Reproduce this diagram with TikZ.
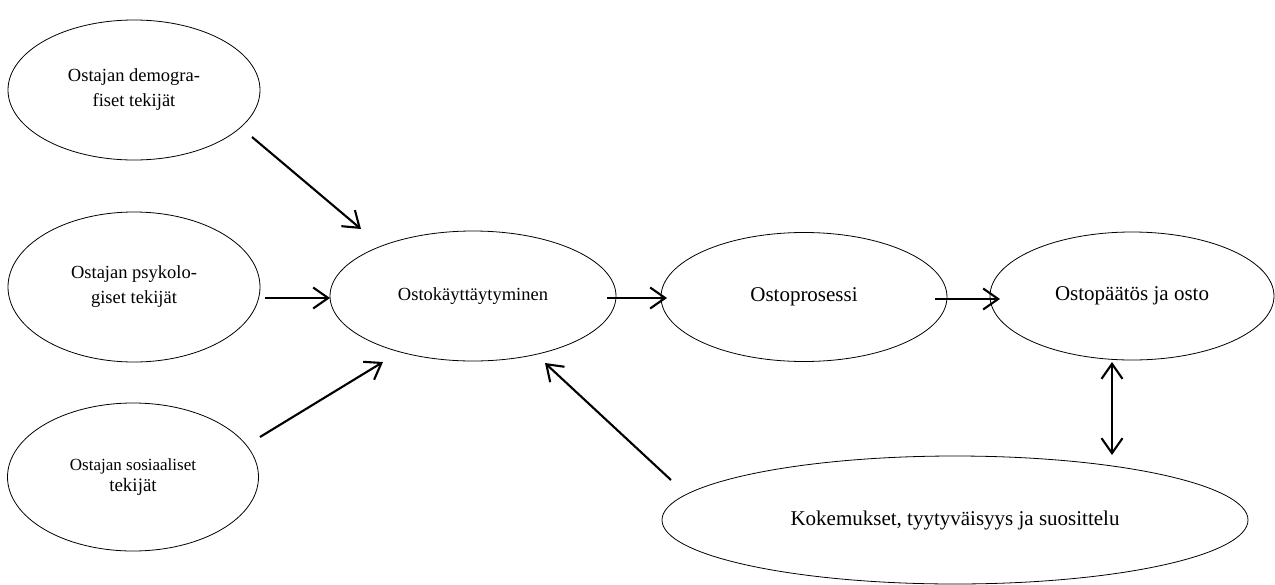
\documentclass[tikz,border=0pt]{standalone}
\usepackage{fontspec}
\setmainfont{Liberation Serif}
\usetikzlibrary{shapes.geometric,arrows.meta,calc}
\begin{document}
\begin{tikzpicture}[x=1pt,y=-1pt,
  oval/.style={ellipse,draw,line width=0.8pt,inner sep=0pt,align=center},
  conn/.style={line width=2.1pt,-{Straight Barb[length=15pt,width=21pt]}},
  twoway/.style={line width=2.1pt,{Straight Barb[length=15pt,width=21pt]}-{Straight Barb[length=15pt,width=21pt]}}]
\useasboundingbox (0,0) rectangle (1275,584);
\node[oval,minimum width=252pt,minimum height=140pt,font=\fontsize{18.5}{25}\selectfont] (e1) at (134,90) {Ostajan demogra-\\fiset tekijät};
\node[oval,minimum width=252pt,minimum height=150pt,font=\fontsize{18.5}{25}\selectfont] (e2) at (134,287) {Ostajan psykolo-\\giset tekijät};
\node[oval,minimum width=251pt,minimum height=148pt] (e3) at (133,477) {{\fontsize{17}{23}\selectfont Ostajan sosiaaliset}\\[3pt]{\fontsize{19}{23}\selectfont tekijät}};
\node[oval,minimum width=286pt,minimum height=130pt,font=\fontsize{18.5}{22}\selectfont] (e4) at (473,296) {Ostokäyttäytyminen};
\node[oval,minimum width=286pt,minimum height=129pt,font=\fontsize{21}{25}\selectfont] (e5) at (804,297) {Ostoprosessi};
\node[oval,minimum width=284pt,minimum height=128pt,font=\fontsize{21}{25}\selectfont] (e6) at (1132,296) {Ostopäätös ja osto};
\node[oval,minimum width=586pt,minimum height=128pt,font=\fontsize{21}{25}\selectfont] (e7) at (955,520) {Kokemukset, tyytyväisyys ja suosittelu};

\draw[conn] ($(e1.center)+(118,47)$) -- ($(e4.center)+(-112,-67)$);
\draw[conn] ($(e2.center)+(131,11)$) -- ($(e4.center)+(-143,2)$);
\draw[conn] ($(e3.center)+(127,-40)$) -- ($(e4.center)+(-90,66)$);
\draw[conn] ($(e7.center)+(-284,-40)$) -- ($(e4.center)+(72,67)$);
\draw[conn] ($(e4.center)+(134,2)$) -- ($(e5.center)+(-137,1)$);
\draw[conn] ($(e5.center)+(131,2)$) -- ($(e6.center)+(-132,3)$);
\draw[twoway] ($(e6.center)+(-20,66)$) -- ($(e7.center)+(157,-65)$);
\end{tikzpicture}
\end{document}
